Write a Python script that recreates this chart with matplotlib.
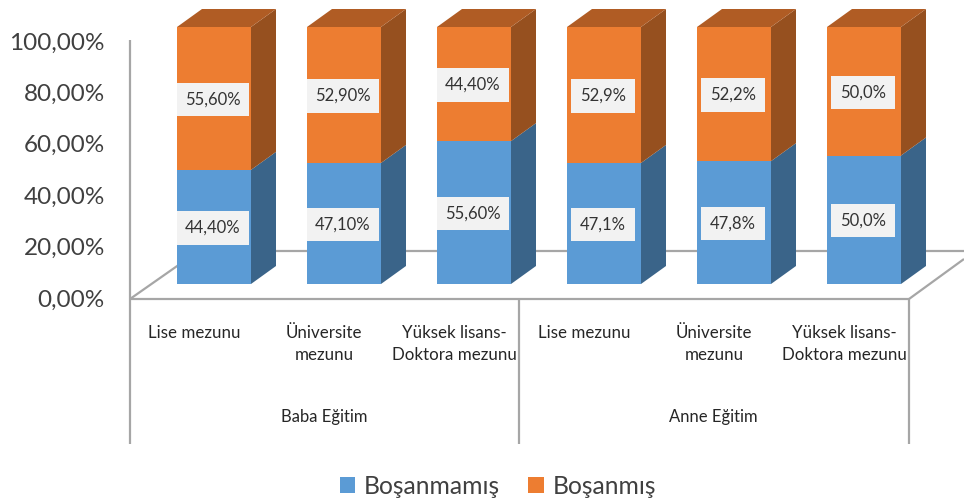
import matplotlib
matplotlib.use("Agg")
import matplotlib.pyplot as plt
from matplotlib.patches import Polygon

plt.rcParams['font.family'] = ['Lato', 'DejaVu Sans']

categories = ["Lise mezunu", "Üniversite\nmezunu", "Yüksek lisans-\nDoktora mezunu",
              "Lise mezunu", "Üniversite\nmezunu", "Yüksek lisans-\nDoktora mezunu"]
groups = ["Baba Eğitim", "Anne Eğitim"]
bosanmamis = [44.4, 47.1, 55.6, 47.1, 47.8, 50.0]
bosanmis = [55.6, 52.9, 44.4, 52.9, 52.2, 50.0]
bosanmamis_labels = ["44,40%", "47,10%", "55,60%", "47,1%", "47,8%", "50,0%"]
bosanmis_labels = ["55,60%", "52,90%", "44,40%", "52,9%", "52,2%", "50,0%"]
y_ticks = [0, 20, 40, 60, 80, 100]
y_tick_labels = ["0,00%", "20,00%", "40,00%", "60,00%", "80,00%", "100,00%"]

W, H = 964, 503
PITCH = 130.0    # px between bars
SCALE = 2.57     # px per percent
X0_PX = 214.0    # centre of first bar
Y0_PX = 299.0    # front floor line

BLUE, BLUE_SIDE = '#5B9BD5', '#3A6489'
ORANGE, ORANGE_SIDE, ORANGE_TOP = '#ED7D31', '#96501F', '#B05C24'
GREY = '#A6A6A6'


def px_x(p):
    return (p - X0_PX) / PITCH


def px_y(p):
    return (Y0_PX - p) / SCALE


fig = plt.figure(figsize=(W / 100, H / 100), dpi=100)
ax = fig.add_axes([0, 0, 1, 1])
ax.set_xlim(px_x(0), px_x(W))
ax.set_ylim(px_y(H), px_y(0))
ax.axis('off')

width = 74 / PITCH
depth_x = 25 / PITCH
depth_y = 18 / SCALE
lift = 15 / SCALE
xs = list(range(len(categories)))
bottom = [lift] * len(xs)
tops = [lift + b for b in bosanmamis]

# Walls and floor
line = dict(color=GREY, lw=1.6, solid_capstyle='butt', zorder=1)
ax.plot([px_x(130), px_x(130)], [px_y(40), px_y(444)], **line)
ax.plot([px_x(130), px_x(909)], [0, 0], **line)
ax.plot([px_x(130), px_x(180)], [0, px_y(264)], **line)
ax.plot([px_x(250), px_x(964)], [px_y(251), px_y(251)], **line)
ax.plot([px_x(909), px_x(964)], [0, px_y(259)], **line)
ax.plot([px_x(519), px_x(519)], [0, px_y(444)], **line)
ax.plot([px_x(909), px_x(909)], [0, px_y(444)], **line)

# Front faces
b1 = ax.bar(xs, bosanmamis, width, bottom=bottom, color=BLUE, label="Boşanmamış", zorder=3)
b2 = ax.bar(xs, bosanmis, width, bottom=tops, color=ORANGE, label="Boşanmış", zorder=3)

# Side and top faces
for x, lo, mid, hi in zip(xs, bottom, tops, [t + v for t, v in zip(tops, bosanmis)]):
    r = x + width / 2
    l = x - width / 2
    ax.add_patch(Polygon([(r, lo), (r + depth_x, lo + depth_y), (r + depth_x, mid + depth_y), (r, mid)],
                         color=BLUE_SIDE, lw=0, zorder=2))
    ax.add_patch(Polygon([(r, mid), (r + depth_x, mid + depth_y), (r + depth_x, hi + depth_y), (r, hi)],
                         color=ORANGE_SIDE, lw=0, zorder=2))
    ax.add_patch(Polygon([(l, hi), (r, hi), (r + depth_x, hi + depth_y), (l + depth_x, hi + depth_y)],
                         color=ORANGE_TOP, lw=0, zorder=2))

# Data labels
box = dict(boxstyle='square,pad=0.52', fc='#F2F2F2', ec='none')
nudge = 1 / SCALE
for x, lo, v, mid, w, s1, s2 in zip(xs, bottom, bosanmamis, tops, bosanmis, bosanmamis_labels, bosanmis_labels):
    ax.text(x - 1 / PITCH, lo + v / 2 - nudge, s1, ha='center', va='center', fontsize=12, color='#333333', bbox=box, zorder=4)
    ax.text(x - 1 / PITCH, mid + w / 2 - nudge, s2, ha='center', va='center', fontsize=12, color='#333333', bbox=box, zorder=4)

# Axis labels
for t, s in zip(y_ticks, y_tick_labels):
    ax.text(px_x(105), t - 1 / SCALE, s, ha='right', va='center', fontsize=17.5, color='#404040')
for x, s in zip(xs, categories):
    ax.text(x - 20 / PITCH, px_y(325), s, ha='center', va='top', fontsize=12.2,
            color='#262626', linespacing=1.5)
for cx, s in zip([324, 713], groups):
    ax.text(px_x(cx), px_y(417), s, ha='center', va='center', fontsize=12, color='#262626')

ax.legend(handles=[b1, b2], ncol=2, loc='center', bbox_to_anchor=(498 / W, 1 - 486 / H), frameon=False,
          fontsize=17.7, labelcolor='#404040', handlelength=0.62, handleheight=0.62,
          handletextpad=0.35, columnspacing=1.15)

fig.savefig("out.png", dpi=100)
